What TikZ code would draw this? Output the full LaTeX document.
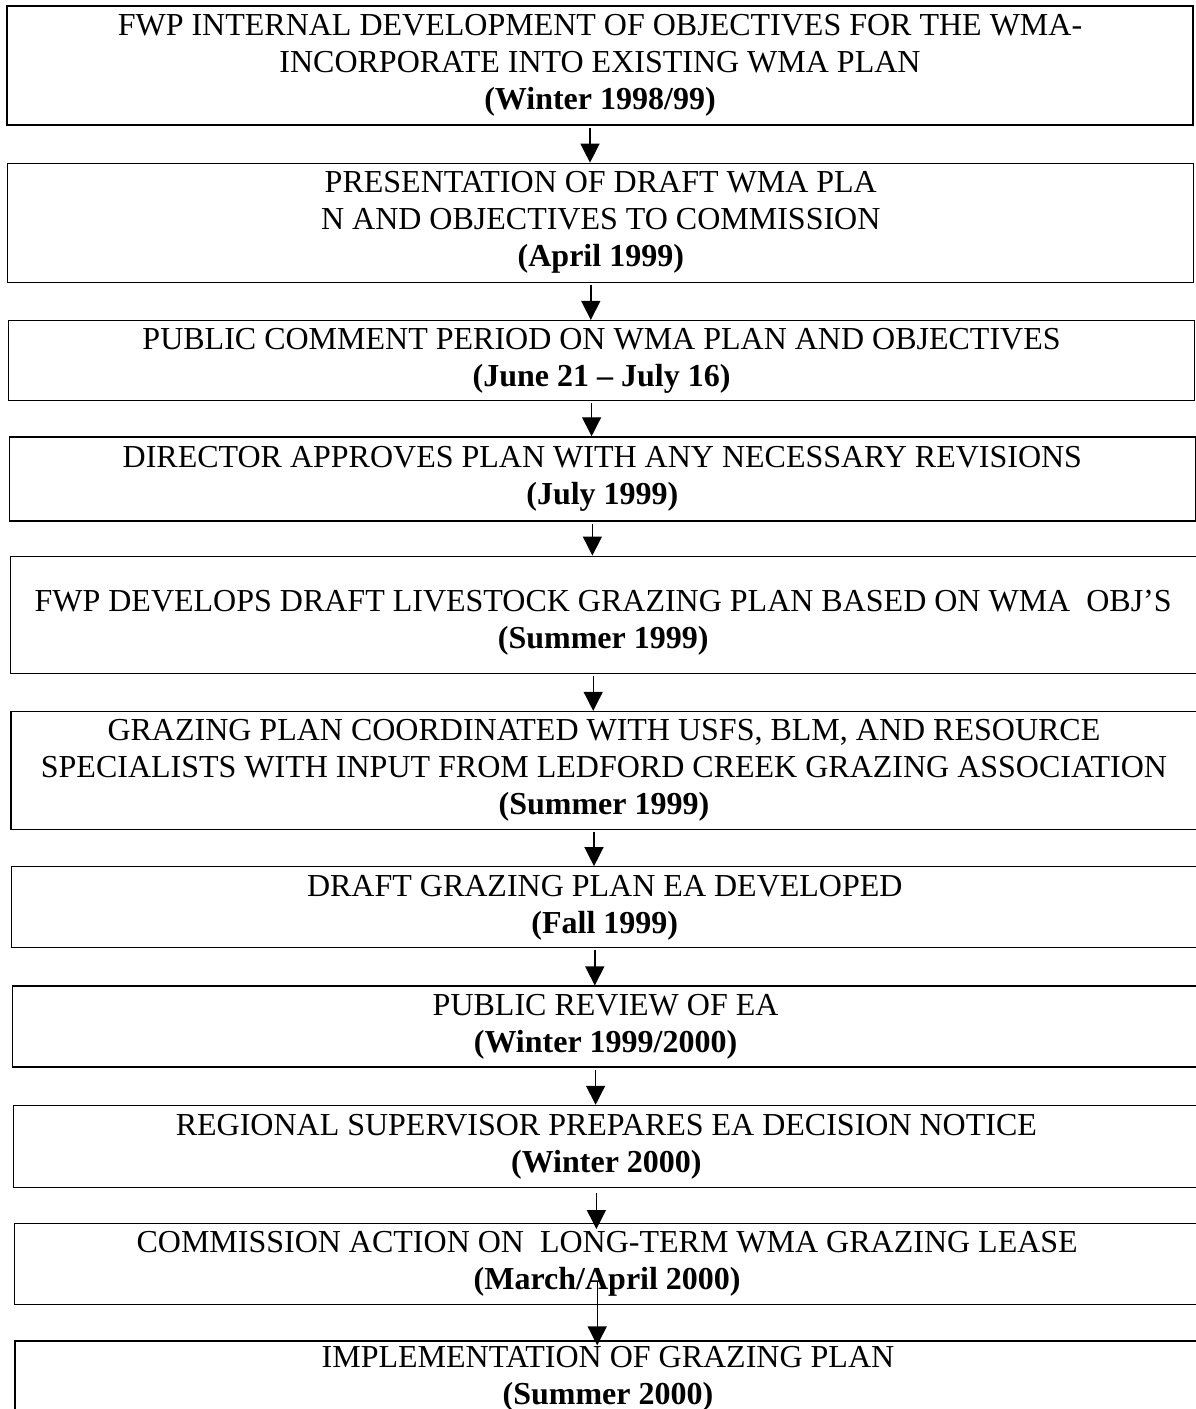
\documentclass[tikz,border=0pt]{standalone}
\usepackage{fontspec}
\setmainfont{Liberation Serif}
\usetikzlibrary{positioning,arrows.meta}
\tikzset{
  stage/.style={draw, line width=1.3pt, minimum width=1186pt, inner sep=0pt,
    align=center, font=\fontsize{32}{37}\selectfont},
  flow/.style={line width=1.4pt, -{Triangle[width=19pt,length=19pt]}}
}
\newcommand{\when}[1]{\textbf{(#1)}}

\begin{document}
\begin{tikzpicture}[x=1pt,y=1pt]
  \useasboundingbox (0,0) rectangle (1196,-1409);

  \node [stage, minimum height=119pt] (1) at (600,-65.5)
    {FWP INTERNAL DEVELOPMENT OF OBJECTIVES FOR THE WMA-\\INCORPORATE INTO EXISTING WMA PLAN\\\when{Winter 1998/99}};
  \node [stage, minimum height=119pt, below=37pt of 1, xshift=0.8pt] (2)
    {PRESENTATION OF DRAFT WMA PLA\\N AND OBJECTIVES TO COMMISSION\\\when{April 1999}};
  \node [stage, minimum height=80pt, below=37pt of 2, xshift=0.8pt] (3)
    {PUBLIC COMMENT PERIOD ON WMA PLAN AND OBJECTIVES\\\when{June 21 -- July 16}};
  \node [stage, minimum height=84pt, below=35pt of 3, xshift=0.8pt] (4)
    {DIRECTOR APPROVES PLAN WITH ANY NECESSARY REVISIONS\\\when{July 1999}};
  \node [stage, minimum height=117pt, below=34pt of 4, xshift=0.8pt] (5)
    {\mbox{}\\FWP DEVELOPS DRAFT LIVESTOCK GRAZING PLAN BASED ON WMA~~OBJ’S\\\when{Summer 1999}};
  \node [stage, minimum height=118pt, below=37pt of 5, xshift=0.8pt] (6)
    {GRAZING PLAN COORDINATED WITH USFS, BLM, AND RESOURCE\\SPECIALISTS WITH INPUT FROM LEDFORD CREEK GRAZING ASSOCIATION\\\when{Summer 1999}};
  \node [stage, minimum height=81pt, below=36pt of 6, xshift=0.8pt] (7)
    {DRAFT GRAZING PLAN EA DEVELOPED\\\when{Fall 1999}};
  \node [stage, minimum height=81pt, below=37pt of 7, xshift=0.8pt] (8)
    {PUBLIC REVIEW OF EA\\\when{Winter 1999/2000}};
  \node [stage, minimum height=82pt, below=37pt of 8, xshift=0.8pt] (9)
    {REGIONAL SUPERVISOR PREPARES EA DECISION NOTICE\\\when{Winter 2000}};
  \node [stage, minimum height=81pt, below=35pt of 9, xshift=0.8pt] (10)
    {COMMISSION ACTION ON~~LONG-TERM WMA GRAZING LEASE\\\when{March/April 2000}};
  \node [stage, minimum height=75pt, below=35pt of 10, xshift=0.8pt] (11)
    {IMPLEMENTATION OF GRAZING PLAN\\\when{Summer 2000}};

  % arrows between the stages
  \foreach \a/\b in {1/2,2/3,3/4,4/5,5/6,6/7,7/8,8/9}
    \draw[flow] ([xshift=-10pt,yshift=-2pt]\a.south) -- ([xshift=-10pt]\a.south |- \b.north);
  \draw[flow] ([xshift=-10pt,yshift=-5pt]9.south) -- ([xshift=-10pt,yshift=-6pt]9.south |- 10.north);
  \draw[flow] ([xshift=-10pt,yshift=24pt]10.south) -- ([xshift=-10pt,yshift=-5pt]10.south |- 11.north);
\end{tikzpicture}
\end{document}
